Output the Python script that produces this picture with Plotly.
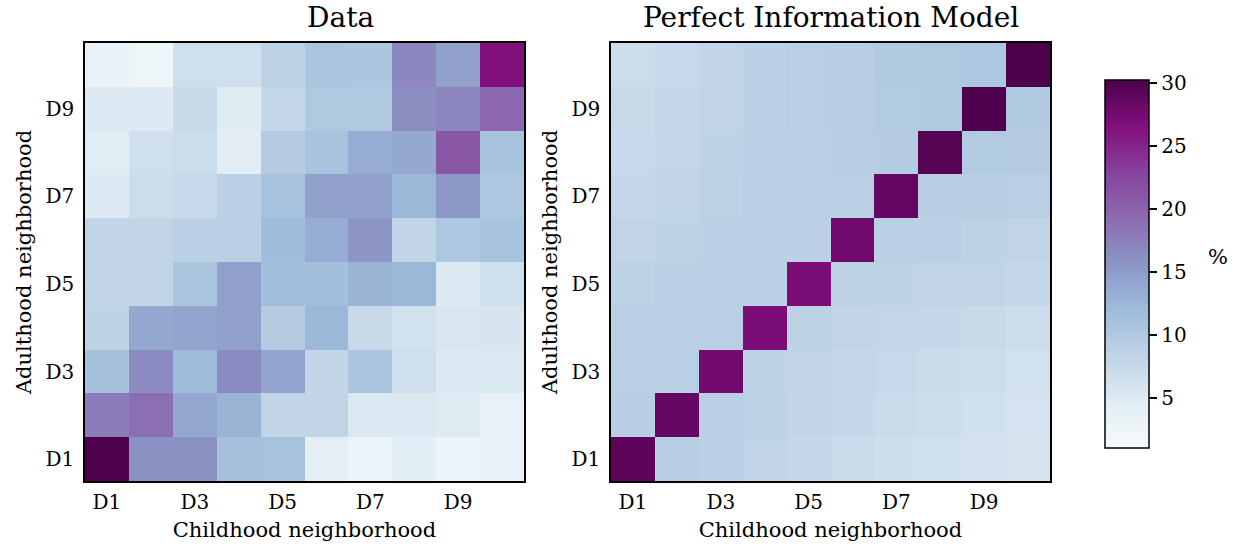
import plotly.graph_objects as go

labels = ["D1", "D2", "D3", "D4", "D5", "D6", "D7", "D8", "D9", "D10"]
tick_labels = ["D1", "D3", "D5", "D7", "D9"]

# rows = adulthood decile D1..D10 (bottom to top), columns = childhood decile D1..D10
data_values = [
    [30.0, 16.0, 16.0, 11.2, 10.8, 4.2, 3.0, 4.3, 2.9, 3.6],   # D1
    [17.8, 19.0, 14.0, 12.7, 8.0, 8.0, 5.2, 5.2, 4.8, 3.5],    # D2
    [11.2, 16.5, 11.9, 16.5, 14.3, 8.0, 10.3, 6.5, 5.0, 5.3],  # D3
    [8.3, 13.8, 14.3, 14.6, 9.5, 12.3, 7.4, 6.3, 5.5, 5.7],    # D4
    [8.0, 8.0, 10.5, 14.7, 11.5, 11.5, 12.7, 12.3, 5.0, 6.6],  # D5
    [8.0, 8.0, 8.7, 8.7, 11.8, 13.5, 15.7, 8.0, 10.2, 10.8],   # D6
    [5.0, 7.0, 7.5, 8.7, 10.8, 14.6, 14.5, 12.3, 15.5, 10.2],  # D7
    [4.5, 6.5, 7.0, 4.4, 9.5, 10.8, 13.5, 13.8, 21.0, 10.8],   # D8
    [5.0, 5.0, 7.3, 4.6, 7.6, 10.0, 10.0, 16.3, 17.0, 19.5],   # D9
    [3.5, 2.5, 6.5, 6.5, 8.5, 10.5, 10.3, 16.8, 14.5, 26.5],   # D10
]

model_values = [
    [29.0, 9.2, 8.8, 8.1, 7.6, 7.2, 6.7, 6.4, 6.1, 5.8],   # D1
    [9.2, 28.5, 8.9, 8.4, 8.0, 7.6, 7.2, 6.8, 6.4, 6.0],   # D2
    [9.0, 9.0, 27.5, 8.5, 8.2, 7.9, 7.5, 7.1, 6.8, 6.3],   # D3
    [8.8, 8.9, 8.9, 27.0, 8.4, 8.1, 7.9, 7.6, 7.3, 6.8],   # D4
    [8.5, 8.7, 8.8, 8.7, 27.0, 8.4, 8.3, 8.2, 8.0, 7.6],   # D5
    [8.1, 8.3, 8.6, 8.7, 8.7, 27.7, 8.8, 8.7, 8.5, 8.2],   # D6
    [7.7, 8.0, 8.4, 8.7, 8.8, 9.0, 28.5, 9.2, 9.1, 9.0],   # D7
    [7.5, 7.9, 8.3, 8.7, 8.9, 9.1, 9.4, 29.5, 9.6, 9.5],   # D8
    [7.4, 7.7, 8.2, 8.6, 8.9, 9.2, 9.6, 9.9, 30.0, 9.9],   # D9
    [7.0, 7.5, 8.0, 8.6, 9.0, 9.3, 9.7, 10.0, 10.2, 30.2], # D10
]

colorbar_ticks = [5, 10, 15, 20, 25, 30]
zmin, zmax = 1.0, 30.2

bupu = [
    [0.0, "rgb(247,252,253)"], [0.125, "rgb(224,236,244)"], [0.25, "rgb(191,211,230)"],
    [0.375, "rgb(158,188,218)"], [0.5, "rgb(140,150,198)"], [0.625, "rgb(140,107,177)"],
    [0.75, "rgb(136,65,157)"], [0.875, "rgb(129,15,124)"], [1.0, "rgb(77,0,75)"],
]

FONT = "DejaVu Serif"
W, H = 1253, 551
TICK = dict(family=FONT, size=20, color="black")
LAB = dict(family=FONT, size=21, color="black")
TITLE = dict(family=FONT, size=28, color="black")

fig = go.Figure()
fig.add_trace(go.Heatmap(
    x=labels, y=labels, z=data_values, colorscale=bupu, zmin=zmin, zmax=zmax,
    showscale=False, xaxis="x", yaxis="y",
))
fig.add_trace(go.Heatmap(
    x=labels, y=labels, z=model_values, colorscale=bupu, zmin=zmin, zmax=zmax,
    xaxis="x2", yaxis="y2",
    colorbar=dict(
        x=1105 / W, xanchor="left", xref="paper",
        y=(H - 264) / H, yanchor="middle",
        len=368, lenmode="pixels", thickness=44, thicknessmode="pixels",
        outlinewidth=1.5, outlinecolor="black",
        tickvals=colorbar_ticks, ticks="outside", ticklen=8, tickwidth=1.5, tickcolor="black",
        tickfont=TICK, xpad=0, ypad=0,
    ),
))

def xaxis(domain):
    return dict(
        domain=domain, tickvals=tick_labels, ticks="", showline=True, mirror=True,
        linecolor="black", linewidth=1.5, tickfont=TICK, automargin=False,
        title=dict(text="Childhood neighborhood", font=LAB, standoff=10),
        ticklabelstandoff=2, showgrid=False, zeroline=False,
    )

def yaxis(anchor):
    return dict(
        domain=[(H - 481) / H, (H - 43) / H], anchor=anchor, tickvals=tick_labels, ticks="",
        showline=True, mirror=True, linecolor="black", linewidth=1.5, tickfont=TICK,
        automargin=False,
        title=dict(text="Adulthood neighborhood", font=LAB, standoff=8),
        ticklabelstandoff=5, showgrid=False, zeroline=False,
    )

fig.update_layout(
    width=W, height=H,
    margin=dict(l=0, r=0, t=0, b=0, autoexpand=False),
    paper_bgcolor="white", plot_bgcolor="white",
    xaxis=dict(**xaxis([85 / W, 524 / W]), anchor="y"),
    yaxis=yaxis("x"),
    xaxis2=dict(**xaxis([611 / W, 1050 / W]), anchor="y2"),
    yaxis2=yaxis("x2"),
    annotations=[
        dict(text="Data", x=(85 + 524) / 2 / W, y=(H - 18) / H, xref="paper", yref="paper",
             showarrow=False, font=TITLE, yanchor="middle"),
        dict(text="Perfect Information Model", x=(611 + 1050) / 2 / W, y=(H - 18) / H,
             xref="paper", yref="paper", showarrow=False, font=TITLE, yanchor="middle"),
        dict(text="%", x=1218 / W, y=(H - 257) / H, xref="paper", yref="paper",
             showarrow=False, font=LAB, xanchor="center", yanchor="middle"),
    ],
)

fig.write_html("out.html", post_script="document.body.style.margin='0px';",
               config={"displayModeBar": False})
